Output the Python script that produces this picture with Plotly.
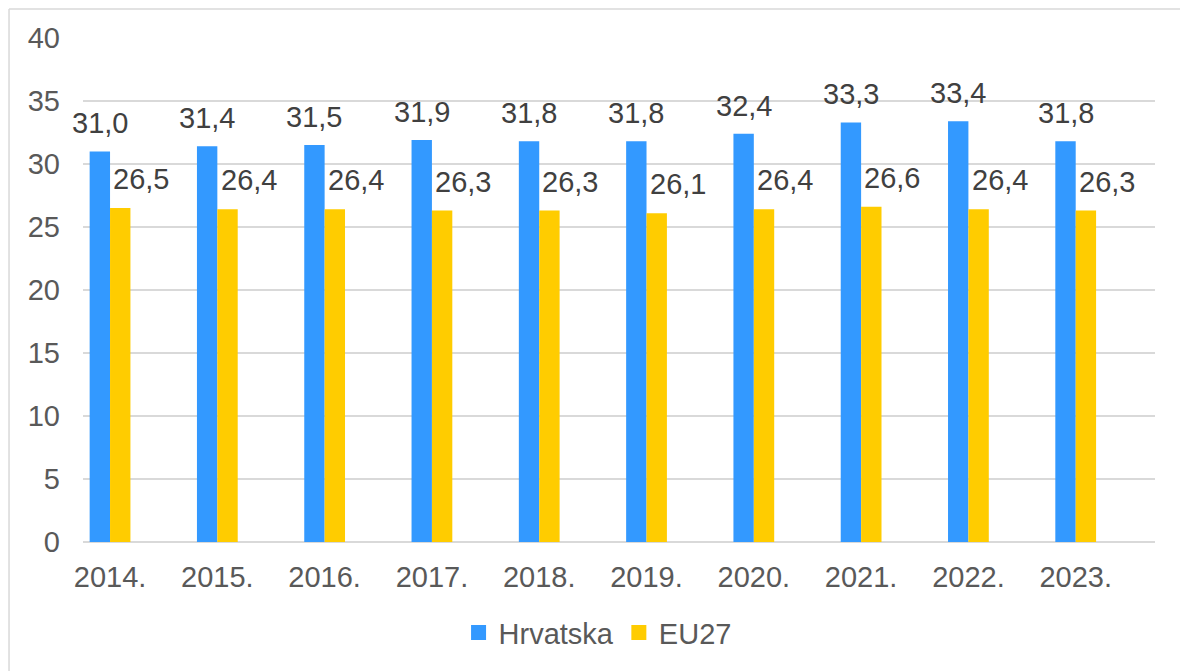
import plotly.graph_objects as go

years = ["2014.", "2015.", "2016.", "2017.", "2018.", "2019.", "2020.", "2021.", "2022.", "2023."]
hrvatska = [31.0, 31.4, 31.5, 31.9, 31.8, 31.8, 32.4, 33.3, 33.4, 31.8]
eu27 = [26.5, 26.4, 26.4, 26.3, 26.3, 26.1, 26.4, 26.6, 26.4, 26.3]

BLUE = "#3399FF"
YELLOW = "#FFCC00"
FONT = "Liberation Sans, Arial, sans-serif"
FS = 29
idx = list(range(len(years)))
bw = 0.19

def fmt(v):
    return f"{v:.1f}".replace(".", ",")

fig = go.Figure()
fig.add_trace(go.Bar(x=idx, y=hrvatska, name="Hrvatska", marker=dict(color=BLUE, line=dict(width=0)),
                     width=bw, offset=-bw, showlegend=False))
fig.add_trace(go.Bar(x=idx, y=eu27, name="EU27", marker=dict(color=YELLOW, line=dict(width=0)),
                     width=bw, offset=0, showlegend=False))
# legend entries with larger square swatches
fig.add_trace(go.Scatter(x=[None], y=[None], mode="markers", name="Hrvatska",
                         marker=dict(symbol="square", size=15, color=BLUE)))
fig.add_trace(go.Scatter(x=[None], y=[None], mode="markers", name="EU27",
                         marker=dict(symbol="square", size=15, color=YELLOW)))

ann = []
for i, v in enumerate(hrvatska):
    ann.append(dict(x=i - bw / 2, y=v, text=fmt(v), showarrow=False, yanchor="bottom", xanchor="center",
                    yshift=10, font=dict(family=FONT, size=FS, color="#404040")))
for i, v in enumerate(eu27):
    ann.append(dict(x=i + bw / 2, y=v, text=fmt(v), showarrow=False, yanchor="bottom", xanchor="center",
                    yshift=11, xshift=21, font=dict(family=FONT, size=FS, color="#404040")))

border = dict(color="#D9D9D9", width=1.5)
fig.update_layout(
    width=1188, height=671,
    margin=dict(l=75, r=41, t=30, b=137),
    paper_bgcolor="white", plot_bgcolor="white",
    font=dict(family=FONT, size=FS, color="#595959"),
    showlegend=True,
    legend=dict(orientation="h", x=0.480, xanchor="center", y=-0.18, yanchor="middle",
                font=dict(family=FONT, size=FS, color="#595959"), itemwidth=30, tracegroupgap=0),
    annotations=ann,
    shapes=[
        dict(type="line", xref="paper", yref="paper", x0=-0.0690, x1=1.2, y0=1.0575, y1=1.0575,
             line=border, layer="below"),
        dict(type="line", xref="paper", yref="paper", x0=-0.0690, x1=-0.0690, y0=-0.5, y1=1.0575,
             line=border, layer="below"),
    ],
)
fig.update_xaxes(range=[-0.252, 9.739], tickvals=idx, ticktext=years, showgrid=False,
                 showline=False, zeroline=False, ticks="", tickfont=dict(size=FS, color="#595959"),
                 ticklabelstandoff=15)
fig.update_yaxes(range=[0, 40], dtick=5, showgrid=True, gridcolor="#D9D9D9", gridwidth=1.5,
                 zeroline=True, zerolinecolor="#D9D9D9", zerolinewidth=1.5, showline=False, ticks="",
                 tickfont=dict(size=FS, color="#595959"), ticklabelstandoff=22)

fig.write_html("out.html")
